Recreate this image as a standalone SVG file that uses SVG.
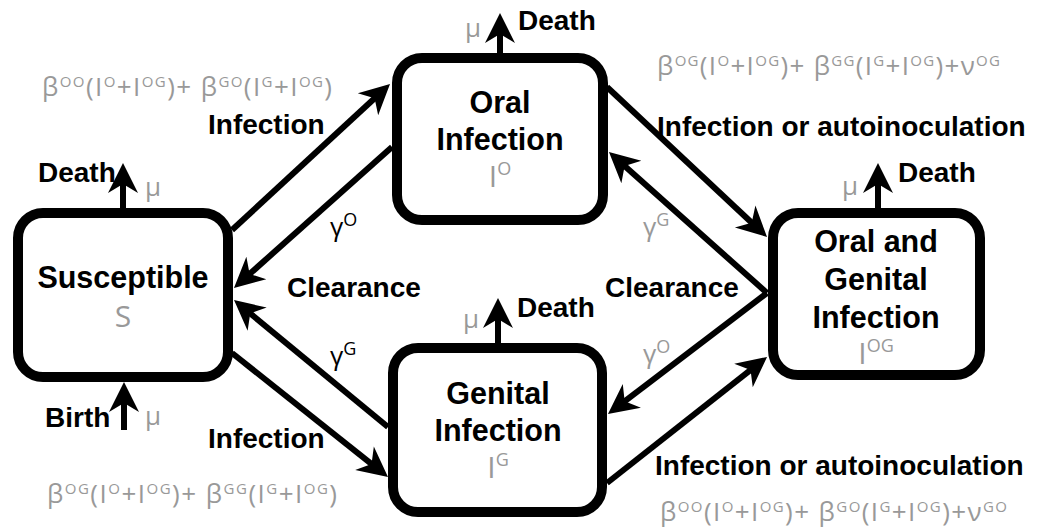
<svg xmlns="http://www.w3.org/2000/svg" width="1038" height="531" viewBox="0 0 1038 531">
<defs>
<marker id="ah" markerUnits="userSpaceOnUse" viewBox="-15 -17 36 34" markerWidth="36" markerHeight="34" refX="0" refY="0" orient="auto">
<path d="M18,0 L-12,-15 L-3,0 L-12,15 Z" fill="#000"/>
</marker>
<style>
.box{fill:#fff;stroke:#000;stroke-width:10}
.conn path{stroke:#000;stroke-width:6;fill:none;marker-end:url(#ah)}
.lbl{font-family:"Liberation Sans",Arial,sans-serif;font-weight:bold;font-size:28px;fill:#000}
.nt{font-family:"Liberation Sans",Arial,sans-serif;font-weight:bold;font-size:30.5px;fill:#000;text-anchor:middle}
.v{font-family:"Open Sans",sans-serif;font-size:30px;fill:#999;text-anchor:middle}
.vs{font-size:18px}
.f{font-family:"Open Sans",sans-serif;font-size:26px;fill:#999}
.s{font-size:15px}
.mu{font-family:"Open Sans",sans-serif;font-size:26px;fill:#999}
.g{font-family:"Open Sans",sans-serif;font-size:26px}
.gs{font-size:18px}
</style>
</defs>
<rect width="1038" height="531" fill="#fff"/>
<g id="connectors" class="conn">
<path d="M232,230 L376.8,96.2"/>
<path d="M392,147 L247.4,276"/>
<path d="M388,427 L247.9,311.5"/>
<path d="M232,353 L373.9,465.8"/>
<path d="M607,87 L753.9,224.7"/>
<path d="M767,293 L622.4,164"/>
<path d="M767,293 L622.3,403.1"/>
<path d="M607,483 L752.9,368.1"/>
<path d="M123,208 L123,181"/>
<path d="M500,53 L500,31"/>
<path d="M498,343 L498,316"/>
<path d="M878,208 L878,181"/>
<path d="M124,430 L124,400"/>
</g>
<g id="susceptible">
<rect class="box" x="18" y="213" width="210" height="164" rx="25"/>
<text class="nt" x="123" y="288">Susceptible</text>
<text class="v" x="123" y="327">S</text>
</g>
<g id="oral">
<rect class="box" x="397" y="58" width="206" height="162" rx="25"/>
<text class="nt" x="500" y="113">Oral</text>
<text class="nt" x="500" y="150">Infection</text>
<text class="v" x="500" y="187">I<tspan class="vs" dy="-12">O</tspan></text>
</g>
<g id="genital">
<rect class="box" x="393" y="348" width="209" height="164" rx="25"/>
<text class="nt" x="498" y="404">Genital</text>
<text class="nt" x="498" y="441">Infection</text>
<text class="v" x="498" y="478">I<tspan class="vs" dy="-12">G</tspan></text>
</g>
<g id="oralgenital">
<rect class="box" x="773" y="213" width="207" height="162" rx="25"/>
<text class="nt" x="876" y="252">Oral and</text>
<text class="nt" x="876" y="290">Genital</text>
<text class="nt" x="876" y="328">Infection</text>
<text class="v" x="876" y="364">I<tspan class="vs" dy="-12">OG</tspan></text>
</g>
<g id="labels">
<text class="lbl" x="38" y="182">Death</text>
<text class="lbl" x="518" y="30">Death</text>
<text class="lbl" x="517" y="317">Death</text>
<text class="lbl" x="898" y="182">Death</text>
<text class="lbl" x="45" y="427">Birth</text>
<text class="lbl" x="208" y="134">Infection</text>
<text class="lbl" x="208" y="448">Infection</text>
<text class="lbl" x="287" y="297">Clearance</text>
<text class="lbl" x="605" y="297">Clearance</text>
<text class="lbl" x="657" y="136">Infection or autoinoculation</text>
<text class="lbl" x="655" y="475">Infection or autoinoculation</text>
<text class="mu" x="145" y="196">μ</text>
<text class="mu" x="465" y="37">μ</text>
<text class="mu" x="463" y="328">μ</text>
<text class="mu" x="842" y="195">μ</text>
<text class="mu" x="145" y="425">μ</text>
<text class="g" x="330" y="236" fill="#000">γ<tspan class="gs" dy="-10">O</tspan></text>
<text class="g" x="330" y="365" fill="#000">γ<tspan class="gs" dy="-10">G</tspan></text>
<text class="g" x="643" y="236" fill="#999">γ<tspan class="gs" dy="-10">G</tspan></text>
<text class="g" x="643" y="363" fill="#999">γ<tspan class="gs" dy="-10">O</tspan></text>
<text class="f" x="42" y="96" textLength="290">β<tspan class="s" dy="-9">OO</tspan><tspan dy="9">(I</tspan><tspan class="s" dy="-9">O</tspan><tspan dy="9">+I</tspan><tspan class="s" dy="-9">OG</tspan><tspan dy="9">)+ β</tspan><tspan class="s" dy="-9">GO</tspan><tspan dy="9">(I</tspan><tspan class="s" dy="-9">G</tspan><tspan dy="9">+I</tspan><tspan class="s" dy="-9">OG</tspan><tspan dy="9">)</tspan></text>
<text class="f" x="47" y="503" textLength="290">β<tspan class="s" dy="-9">OG</tspan><tspan dy="9">(I</tspan><tspan class="s" dy="-9">O</tspan><tspan dy="9">+I</tspan><tspan class="s" dy="-9">OG</tspan><tspan dy="9">)+ β</tspan><tspan class="s" dy="-9">GG</tspan><tspan dy="9">(I</tspan><tspan class="s" dy="-9">G</tspan><tspan dy="9">+I</tspan><tspan class="s" dy="-9">OG</tspan><tspan dy="9">)</tspan></text>
<text class="f" x="657" y="75" textLength="343">β<tspan class="s" dy="-9">OG</tspan><tspan dy="9">(I</tspan><tspan class="s" dy="-9">O</tspan><tspan dy="9">+I</tspan><tspan class="s" dy="-9">OG</tspan><tspan dy="9">)+ β</tspan><tspan class="s" dy="-9">GG</tspan><tspan dy="9">(I</tspan><tspan class="s" dy="-9">G</tspan><tspan dy="9">+I</tspan><tspan class="s" dy="-9">OG</tspan><tspan dy="9">)+ν</tspan><tspan class="s" dy="-9">OG</tspan></text>
<text class="f" x="660" y="521" textLength="347">β<tspan class="s" dy="-9">OO</tspan><tspan dy="9">(I</tspan><tspan class="s" dy="-9">O</tspan><tspan dy="9">+I</tspan><tspan class="s" dy="-9">OG</tspan><tspan dy="9">)+ β</tspan><tspan class="s" dy="-9">GO</tspan><tspan dy="9">(I</tspan><tspan class="s" dy="-9">G</tspan><tspan dy="9">+I</tspan><tspan class="s" dy="-9">OG</tspan><tspan dy="9">)+ν</tspan><tspan class="s" dy="-9">GO</tspan></text>
</g>
</svg>
